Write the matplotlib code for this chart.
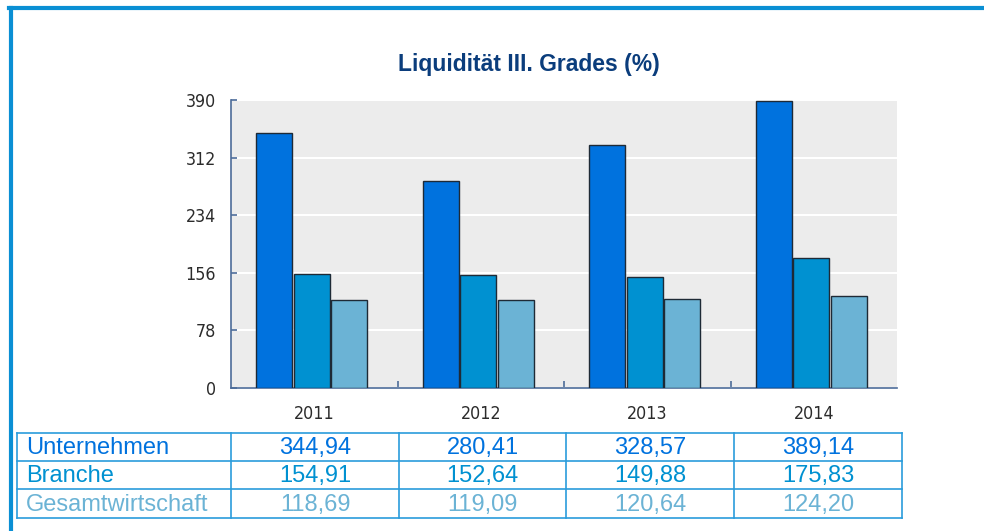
import matplotlib
matplotlib.use("Agg")
import matplotlib.pyplot as plt
import numpy as np
from matplotlib.lines import Line2D
from matplotlib import font_manager

# data
years = ["2011", "2012", "2013", "2014"]
series_names = ["Unternehmen", "Branche", "Gesamtwirtschaft"]
unternehmen = [344.94, 280.41, 328.57, 389.14]
branche = [154.91, 152.64, 149.88, 175.83]
gesamt = [118.69, 119.09, 120.64, 124.20]
y_ticks = [0, 78, 156, 234, 312, 390]
title = "Liquidität III. Grades (%)"

colors = ["#0072de", "#0091d1", "#6bb3d5"]
frame_col = "#0a8fd4"
table_col = "#2a9cdc"
axis_col = "#4d6c99"

W, H = 984, 531
fig = plt.figure(figsize=(W / 100, H / 100), dpi=100)


def fx(px):
    return px / W


def fy(py):
    return 1 - py / H


# condensed face for the tick labels (Arial Narrow look), if installed
cond = font_manager.FontProperties(family="DejaVu Sans", stretch="condensed")
if "Condensed" in font_manager.findfont(cond, fallback_to_default=False):
    narrow = dict(family="DejaVu Sans", stretch="condensed")
else:
    narrow = dict(family=["Liberation Sans", "DejaVu Sans"])
regular = ["Liberation Sans", "DejaVu Sans"]

# outer blue frame (top + left)
fig.add_artist(Line2D([fx(9), fx(984)], [fy(8), fy(8)], color=frame_col, lw=3))
fig.add_artist(Line2D([fx(11), fx(11)], [fy(8), fy(531)], color=frame_col, lw=3))

ax = fig.add_axes([fx(231), fy(388), fx(897) - fx(231), fy(100) - fy(388)])
ax.set_facecolor("#ececec")

x = np.arange(len(years))
off = 0.225
w = 0.216
for i, vals in enumerate([unternehmen, branche, gesamt]):
    ax.bar(x + (i - 1) * off - 0.015, vals, width=w, color=colors[i],
           edgecolor="#1e2a36", linewidth=1.0, zorder=3)

ax.set_xlim(-0.5, len(years) - 0.5)
ax.set_ylim(0, 390)
ax.set_yticks(y_ticks)
ax.yaxis.grid(True, color="white", linewidth=1.5, zorder=1)
ax.set_axisbelow(True)

for s in ["top", "right"]:
    ax.spines[s].set_visible(False)
for s in ["left", "bottom"]:
    ax.spines[s].set_color(axis_col)
    ax.spines[s].set_linewidth(1.2)

ax.set_xticks(x)
ax.set_xticklabels(years)
ax.set_xticks(np.arange(0.5, len(years) - 0.5, 1), minor=True)
ax.tick_params(axis="x", which="major", length=0, pad=12)
ax.tick_params(axis="x", which="minor", direction="in", length=5,
               color=axis_col, width=1.2)
ax.tick_params(axis="y", direction="in", length=4, color=axis_col,
               width=1.2, pad=11)
for lab in ax.get_xticklabels() + ax.get_yticklabels():
    lab.set(**narrow)
    lab.set_fontsize(12.8)
    lab.set_color("#2b2b2b")

fig.text(fx(529), fy(65), title, ha="center", va="center", fontsize=16.5,
         fontweight="bold", color="#0b3d7c", family=regular)

# value table below the chart
row_y = [432.7, 460.7, 489.3, 518.3]
col_x = [17, 231, 399, 566, 734, 902]
for yy in row_y:
    fig.add_artist(Line2D([fx(col_x[0]), fx(col_x[-1])], [fy(yy), fy(yy)],
                          color=table_col, lw=1.2))
for xx in col_x:
    fig.add_artist(Line2D([fx(xx), fx(xx)], [fy(row_y[0]), fy(row_y[-1])],
                          color=table_col, lw=1.2))

rows = [unternehmen, branche, gesamt]
for r, (name, vals) in enumerate(zip(series_names, rows)):
    yc = (row_y[r] + row_y[r + 1]) / 2 + 1
    fig.text(fx(26), fy(yc), name, ha="left", va="center", fontsize=17,
             color=colors[r], family=regular)
    for c, v in enumerate(vals):
        xc = (col_x[c + 1] + col_x[c + 2]) / 2
        fig.text(fx(xc), fy(yc), f"{v:.2f}".replace(".", ","), ha="center",
                 va="center", fontsize=17, color=colors[r], family=regular)

fig.savefig("out.png", dpi=100)
